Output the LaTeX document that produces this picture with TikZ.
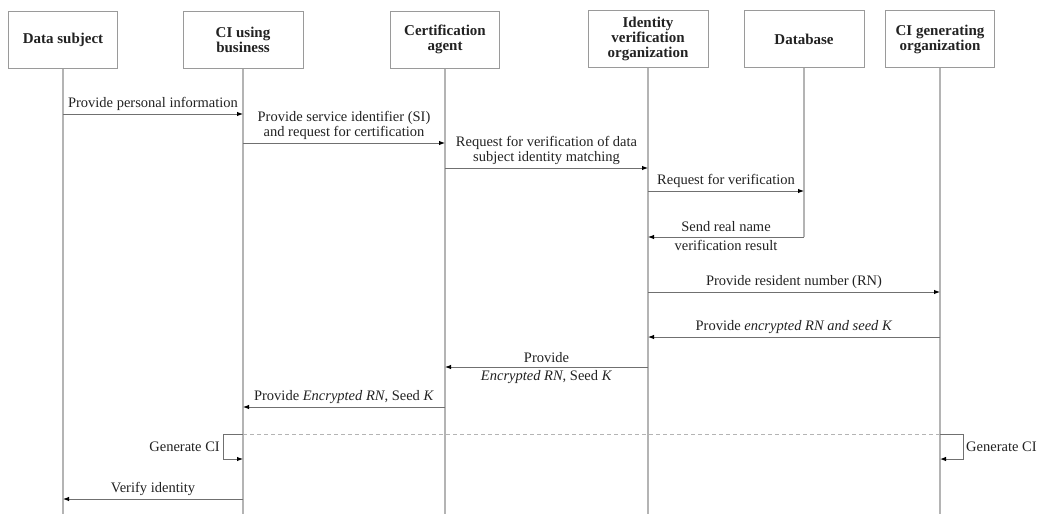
\documentclass[tikz,border=0pt]{standalone}
\usepackage{fontspec}
\setmainfont{Liberation Serif}
\usetikzlibrary{arrows.meta}
\definecolor{boxline}{HTML}{9A9A9A}
\definecolor{lifeline}{HTML}{B4B4B4}
\definecolor{msgline}{HTML}{707070}
\definecolor{ink}{HTML}{222222}
\begin{document}
\begin{tikzpicture}[x=1pt,y=-1pt,
  actor/.style={draw=boxline, line width=1pt, minimum height=57pt, align=center,
    font=\fontsize{15}{15}\selectfont\bfseries, text=ink, inner sep=0pt},
  life/.style={draw=lifeline, line width=1.3pt},
  msg/.style={draw=msgline, line width=1pt, -{Latex[length=6pt,width=4.5pt,color=black]}},
  lbl/.style={font=\fontsize{14.5}{15}\selectfont, text=ink, align=center, inner sep=0pt},
  sep/.style={draw=lifeline, line width=1pt, dash pattern=on 4pt off 3pt}
]
\useasboundingbox (0,0) rectangle (1063,514);

% participants
\node[actor, minimum width=109pt] (ds)  at (63,39.5)  {Data subject};
\node[actor, minimum width=120pt] (cib) at (243,39.5) {CI using\\business};
\node[actor, minimum width=109pt] (ca)  at (445,39.5) {Certification\\agent};
\node[actor, minimum width=120pt] (ivo) at (648,39)   {Identity\\verification\\organization};
\node[actor, minimum width=120pt] (db)  at (804,39)   {Database};
\node[actor, minimum width=109pt] (cig) at (940,39)   {CI generating\\organization};

% lifelines
\foreach \p in {ds,cib,ca,ivo,cig}
  \draw[life] (\p.south) -- (\p.south |- 0,514);
\draw[life] (db.south) -- (db.south |- 0,237);

% messages
\draw[msg] (ds.south |- 0,114) -- node[lbl, above=3pt] {Provide personal information} (cib.south |- 0,114);
\draw[msg] (cib.south |- 0,143) -- node[lbl, above=3pt] {Provide service identifier (SI)\\and request for certification} (ca.south |- 0,143);
\draw[msg] (ca.south |- 0,168) -- node[lbl, above=3pt] {Request for verification of data\\subject identity matching} (ivo.south |- 0,168);
\draw[msg] (ivo.south |- 0,191) -- node[lbl, above=3pt] {Request for verification} (db.south |- 0,191);
\draw[msg] (db.south |- 0,237) -- node[lbl, above=5pt] {Send real name} node[lbl, below=3pt] {verification result} (ivo.south |- 0,237);
\draw[msg] (ivo.south |- 0,292) -- node[lbl, above=3pt] {Provide resident number (RN)} (cig.south |- 0,292);
\draw[msg] (cig.south |- 0,337) -- node[lbl, above=3pt] {Provide \textit{encrypted RN and seed K}} (ivo.south |- 0,337);
\draw[msg] (ivo.south |- 0,367) -- node[lbl, above=4pt] {Provide} node[lbl, below=3pt] {\textit{Encrypted RN}, Seed \textit{K}} (ca.south |- 0,367);
\draw[msg] (ca.south |- 0,407) -- node[lbl, above=3pt] {Provide \textit{Encrypted RN}, Seed \textit{K}} (cib.south |- 0,407);

% separator and self messages
\draw[sep] (cib.south |- 0,434) -- (cig.south |- 0,434);
\coordinate (gl) at (223,434);
\coordinate (gr) at (963,434);
\draw[msg] (cib.south |- 0,434) -- (gl) -- (gl |- 0,459) -- (cib.south |- 0,459);
\node[lbl, anchor=east] (gentl) at (220,447) {Generate CI};
\draw[msg] (cig.south |- 0,434) -- (gr) -- (gr |- 0,459) -- (cig.south |- 0,459);
\node[lbl, anchor=west] (gentr) at (966,447) {Generate CI};

\draw[msg] (cib.south |- 0,499) -- node[lbl, above=3pt] {Verify identity} (ds.south |- 0,499);
\end{tikzpicture}
\end{document}
